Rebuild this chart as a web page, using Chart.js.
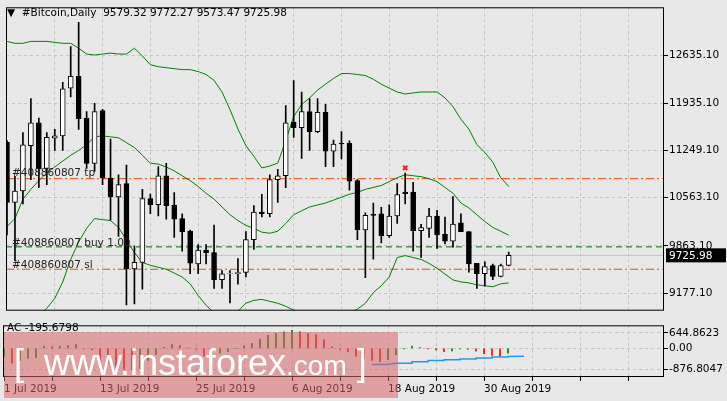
<!DOCTYPE html>
<html>
<head>
<meta charset="utf-8">
<script src="https://cdn.jsdelivr.net/npm/chart.js@4"></script>
<style>
  body { margin: 0; background: #e8e8e8; font-family: "DejaVu Sans", sans-serif; }
  #wrap { position: relative; width: 727px; height: 401px; overflow: hidden; }
  canvas { position: absolute; left: 0; }
  .txt { position: absolute; font-size: 10.5px; color: #000; white-space: pre; }
  #wm { position: absolute; left: 4px; top: 332px; width: 394px; height: 66px;
        background: rgba(214, 100, 100, 0.55); color: #fff; font-family: "Liberation Sans", sans-serif;
        font-size: 36px; line-height: 62px; white-space: pre; }
</style>
</head>
<body>
<div id="wrap">
  <canvas id="mainChart" width="727" height="318" style="top:0"></canvas>
  <canvas id="acChart" width="727" height="83" style="top:318px"></canvas>
  <div class="txt" style="left:7px;top:6px">▼  #Bitcoin,Daily  9579.32 9772.27 9573.47 9725.98</div>
  <div class="txt" style="left:12px;top:166px;color:#222">#408860807 tp</div>
  <div class="txt" style="left:12px;top:236px;color:#222">#408860807 buy 1.00</div>
  <div class="txt" style="left:12px;top:258px;color:#222">#408860807 sl</div>
  <div class="txt" style="left:7px;top:321px">AC -195.6798</div>
  <div id="wm"> [  www.instaforex<span style="font-size:28px">.com</span> ]</div>
</div>
<script>
// daily candles from 1 Jul 2019
const opens  = [11367,10495,10660,11320,11650,10990,11428,11461,12154,12324,11721,11061,11829,10849,10575,10768,9529,9623,10552,10462,10882,10457,10259,10080,9600,9802,9765,9374,9458,9458,9477,9953,10354,10330,10825,10882,11660,11580,11815,11523,11801,11240,11352,11352,10811,10095,10321,10330,10010,10297,10646,10646,10085,10116,10297,10033,9930,10198,10071,9609,9458,9576,9421,9579.32];
const highs  = [11391,10873,11509,12004,11721,11509,11556,12239,12758,13111,11815,11933,11848,11414,10896,11037,9859,10684,10614,11014,11061,10637,10330,10094,9882,9882,10165,9505,9505,9680,10071,10448,10613,10896,10976,11900,12263,12098,12004,12004,11919,11400,11523,11390,10825,10344,10486,10424,10458,10769,10920,10787,10175,10410,10378,10283,10580,10330,10071,9609,9633,9600,9600,9772.27];
const lows   = [10024,9647,10472,10825,10707,10754,11249,11249,12027,11556,10990,10943,10754,10236,10000,9007,9021,9233,10330,10297,10250,9986,9788,9458,9458,9600,9247,9247,9036,9307,9411,9812,10283,10283,10495,10707,11438,11132,11249,11509,11014,11014,11126,10674,9953,9402,9670,9906,9986,10189,10472,9788,9694,9986,9826,9892,9845,10071,9482,9246,9279,9373,9411,9573.47];
const closes = [10495,10660,11330,11650,10981,11438,11461,12145,12324,11711,11061,11815,10849,10575,10754,9529,9623,10552,10462,10882,10448,10250,10071,9614,9802,9765,9374,9458,9462,9477,9953,10354,10330,10825,10882,11650,11580,11815,11523,11801,11240,11343,11343,10802,10095,10307,10307,10010,10297,10608,10622,10085,10128,10297,10024,9930,10180,10071,9600,9458,9562,9421,9576,9725.98];

// bollinger bands
const bandUpper = [12833,12805,12805,12833,12833,12833,12819,12805,12805,12734,12649,12635,12649,12663,12649,12649,12734,12621,12494,12465,12451,12437,12423,12423,12395,12352,12267,12098,11843,11560,11320,11164,10995,11023,11065,11391,11744,11914,12013,12126,12211,12295,12366,12366,12352,12338,12282,12211,12154,12098,12069,12084,12098,12098,12098,12013,11886,11702,11560,11334,11221,11080,10853,10726];
const bandMiddle = [10146,10260,10542,10684,10811,10924,11009,11094,11179,11249,11334,11447,11461,11447,11433,11362,11292,11179,11065,11051,11009,10952,10882,10811,10726,10627,10542,10429,10316,10231,10161,10118,10062,10047,10076,10189,10316,10373,10429,10457,10486,10528,10571,10613,10641,10684,10712,10740,10797,10853,10896,10882,10868,10839,10797,10712,10627,10486,10415,10316,10217,10132,10076,10019];
const bandLower = [8280,8421,8563,8704,8845,8959,9100,9340,9666,9920,10118,10260,10245,10231,10132,9948,9765,9623,9581,9552,9524,9468,9411,9312,9142,9001,8888,8775,8775,8916,9030,9072,9086,9058,9030,8987,8930,8874,8817,8789,8789,8817,8845,8888,8945,9030,9185,9284,9411,9694,9722,9694,9666,9609,9538,9454,9369,9340,9326,9298,9284,9270,9312,9326];

// accelerator oscillator
const acValues = [-358,-620,-500,-420,-380,95,60,100,120,155,-24,-60,-560,-620,-760,-860,-900,-850,-500,-260,40,155,120,20,-30,-320,-262,-200,-143,0,95,215,394,549,632,692,752,692,632,573,358,60,-48,-143,-322,-405,-500,-560,-477,-262,-10,95,36,-10,-60,-143,-107,-24,-48,-120,-226,-298,-345,-195.68];
const acSignal = [[46,-680],[48,-680],[49,-620],[51,-620],[51,-560],[53,-560],[53,-510],[55,-510],[55,-480],[57,-480],[57,-440],[59,-440],[59,-400],[61,-400],[61,-360],[63,-360],[63,-340],[65,-330]];

const priceTicks = [12635.10, 11935.10, 11249.10, 10563.10, 9863.10, 9177.10];
const acTicks = [644.8623, 0, -876.8047];
const dateTicks = {0: '1 Jul 2019', 12: '13 Jul 2019', 24: '25 Jul 2019', 36: '6 Aug 2019', 48: '18 Aug 2019', 60: '30 Aug 2019'};

const orderLines = { tp: 10839, buy: 9849, sl: 9524 };
const lastPrice = 9725.98;
const marker = { x: 50, y: 10995 };

const idx = opens.map((_, i) => i);
const font = { family: 'DejaVu Sans', size: 10.5 };
const XMIN = -0.125, XMAX = 82.5;

const frame = {
  id: 'frame',
  afterDraw(chart) {
    const { ctx, chartArea: a, scales } = chart;
    ctx.save();
    ctx.strokeStyle = '#000'; ctx.lineWidth = 1;
    ctx.strokeRect(a.left + 0.5, a.top + 0.5, a.right - a.left - 1, a.bottom - a.top - 1);
    if (chart.canvas.id === 'mainChart') {
      const py = scales.y.getPixelForValue(lastPrice);
      ctx.fillStyle = '#000';
      ctx.fillRect(a.right + 2, py - 7, 60, 14);
      ctx.fillStyle = '#fff';
      ctx.font = '10.5px "DejaVu Sans"';
      ctx.textBaseline = 'middle';
      ctx.fillText('9725.98', a.right + 5, py + 1);
    }
    ctx.restore();
  }
};

const hline = (v, color, dash, order) => ({
  type: 'line', data: [{ x: XMIN, y: v }, { x: XMAX, y: v }], borderColor: color, borderWidth: 1,
  borderDash: dash, pointRadius: 0, order
});

const xScale = (showLabels) => ({
  type: 'linear', min: XMIN, max: XMAX, offset: false,
  afterBuildTicks: s => { s.ticks = []; for (let v = 0; v <= 82; v += 6) s.ticks.push({ value: v }); },
  grid: { color: '#c4c4c4', drawTicks: showLabels, tickLength: 4, tickColor: '#000', offset: false },
  border: { display: false, dash: [3, 3] },
  ticks: { display: showLabels, align: 'start', maxRotation: 0, autoSkip: false, padding: 2, color: '#000', font,
           callback: v => dateTicks[v] || '' },
  afterFit: s => { s.height = showLabels ? 24 : 0; }
});

new Chart(document.getElementById('mainChart'), {
  data: {
    datasets: [
      { type: 'scatter', data: [marker], pointStyle: 'crossRot', radius: 3, borderColor: '#ff2020', borderWidth: 2, order: 0 },
      { type: 'bar', data: idx.map(i => ({ x: i, y: [Math.min(opens[i], closes[i]), Math.max(opens[i], closes[i])] })),
        backgroundColor: idx.map(i => closes[i] >= opens[i] ? '#fff' : '#000'), borderColor: '#000', borderWidth: 1,
        borderSkipped: false, barThickness: 5, grouped: false, order: 1 },
      { type: 'bar', data: idx.map(i => ({ x: i, y: [lows[i], highs[i]] })), backgroundColor: '#000',
        barThickness: 1, grouped: false, order: 2 },
      { type: 'line', data: idx.map(i => ({ x: i, y: bandUpper[i] })), borderColor: '#008000', borderWidth: 1, pointRadius: 0, order: 3 },
      { type: 'line', data: idx.map(i => ({ x: i, y: bandMiddle[i] })), borderColor: '#008000', borderWidth: 1, pointRadius: 0, order: 3 },
      { type: 'line', data: idx.map(i => ({ x: i, y: bandLower[i] })), borderColor: '#008000', borderWidth: 1, pointRadius: 0, order: 3 },
      hline(orderLines.tp, '#ff4000', [8, 3, 2, 3], 4),
      hline(orderLines.sl, '#ff4000', [8, 3, 2, 3], 4),
      hline(orderLines.buy, '#007000', [6, 4], 4),
      hline(lastPrice, '#c0c0c0', [], 5)
    ]
  },
  options: {
    responsive: false, animation: false, events: [],
    layout: { padding: { left: 3, top: 3, bottom: 2, right: 0 } },
    plugins: { legend: { display: false }, tooltip: { enabled: false } },
    scales: {
      x: xScale(false),
      y: {
        position: 'right', min: 8922, max: 13328,
        afterBuildTicks: s => { s.ticks = priceTicks.map(v => ({ value: v })); },
        afterFit: s => { s.width = 63; },
        grid: { color: '#c4c4c4', tickLength: 4, tickColor: '#000' },
        border: { display: false, dash: [3, 3] },
        ticks: { padding: 1, color: '#000', font, callback: v => v.toFixed(2) }
      }
    }
  },
  plugins: [frame]
});

new Chart(document.getElementById('acChart'), {
  data: {
    datasets: [
      { type: 'line', data: acSignal.map(p => ({ x: p[0], y: p[1] })), borderColor: '#1e9be8', borderWidth: 1.5, pointRadius: 0, order: 0 },
      { type: 'bar', data: idx.map(i => ({ x: i, y: acValues[i] })),
        backgroundColor: idx.map(i => i > 0 && acValues[i] < acValues[i - 1] ? '#ff0000' : '#008000'),
        barThickness: 1, grouped: false, order: 1 }
    ]
  },
  options: {
    responsive: false, animation: false, events: [],
    layout: { padding: { left: 3, top: 0, bottom: 0, right: 0 } },
    plugins: { legend: { display: false }, tooltip: { enabled: false } },
    scales: {
      x: xScale(true),
      y: {
        position: 'right', min: -1199, max: 967,
        afterBuildTicks: s => { s.ticks = acTicks.map(v => ({ value: v })); },
        afterFit: s => { s.width = 63; },
        grid: { color: '#c4c4c4', tickLength: 4, tickColor: '#000' },
        border: { display: false, dash: [3, 3] },
        ticks: { padding: 1, color: '#000', font, callback: v => v === 0 ? '0.00' : v.toFixed(4) }
      }
    }
  },
  plugins: [frame]
});
</script>
</body>
</html>
